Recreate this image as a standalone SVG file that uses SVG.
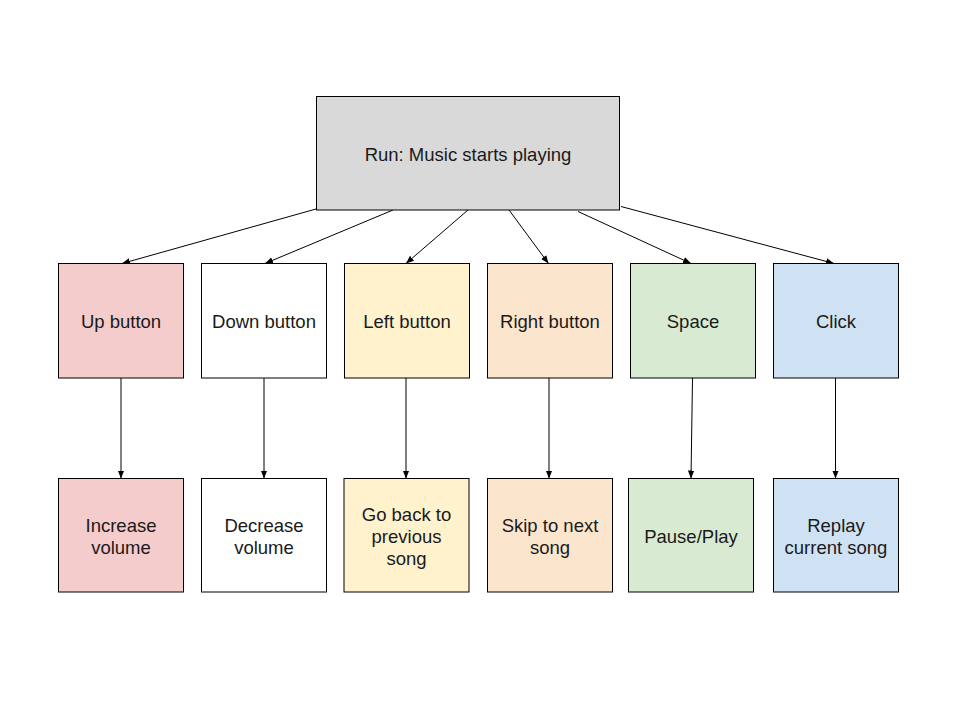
<svg xmlns="http://www.w3.org/2000/svg" width="960" height="720" viewBox="0 0 960 720">
<defs>
<marker id="ah" viewBox="0 0 10 10" refX="10" refY="5" markerWidth="8" markerHeight="8" markerUnits="userSpaceOnUse" orient="auto">
<path d="M0,1 L10,5 L0,9 z" fill="#000"/>
</marker>
<style>
.b{stroke:#000;stroke-width:1}
.t{font-family:"Liberation Sans",Arial,sans-serif;font-size:18.5px;fill:#1a1a1a;text-anchor:middle;dominant-baseline:central}
.c{stroke:#000;stroke-width:1;fill:none;marker-end:url(#ah)}
</style>
</defs>
<rect width="960" height="720" fill="#fff"/>
<g id="connectors">
<line class="c" x1="316" y1="209" x2="122" y2="263.5"/>
<line class="c" x1="393" y1="210" x2="265" y2="263.5"/>
<line class="c" x1="468" y1="210" x2="406" y2="263.5"/>
<line class="c" x1="509" y1="210" x2="548.5" y2="263.5"/>
<line class="c" x1="578" y1="211.5" x2="691" y2="263.5"/>
<line class="c" x1="621" y1="206.5" x2="834" y2="263.5"/>
<line class="c" x1="121" y1="378" x2="121" y2="478.5"/>
<line class="c" x1="264" y1="378" x2="264" y2="478.5"/>
<line class="c" x1="406" y1="378" x2="406" y2="478.5"/>
<line class="c" x1="549" y1="378" x2="549" y2="478.5"/>
<line class="c" x1="692.5" y1="378" x2="691" y2="478.5"/>
<line class="c" x1="835.5" y1="378" x2="835.5" y2="478.5"/>
</g>
<g id="root"><rect class="b" x="316.5" y="96.5" width="303" height="113.5" fill="#d9d9d9"/><text class="t" x="468" y="154">Run: Music starts playing</text></g>
<g id="up"><rect class="b" x="58.5" y="263.5" width="125" height="114.5" fill="#f4cccc"/><text class="t" x="121" y="321">Up button</text></g>
<g id="down"><rect class="b" x="201.5" y="263.5" width="125" height="114.5" fill="#ffffff"/><text class="t" x="264" y="321">Down button</text></g>
<g id="left"><rect class="b" x="344.5" y="263.5" width="125" height="114.5" fill="#fff2cc"/><text class="t" x="407" y="321">Left button</text></g>
<g id="right"><rect class="b" x="487.5" y="263.5" width="125" height="114.5" fill="#fce5cd"/><text class="t" x="550" y="321">Right button</text></g>
<g id="space"><rect class="b" x="630.5" y="263.5" width="125" height="114.5" fill="#d9ead3"/><text class="t" x="693" y="321">Space</text></g>
<g id="click"><rect class="b" x="773.5" y="263.5" width="125" height="114.5" fill="#cfe2f3"/><text class="t" x="836" y="321">Click</text></g>
<g id="inc"><rect class="b" x="58.5" y="478.5" width="125" height="113.5" fill="#f4cccc"/><text class="t" x="121" y="525">Increase</text><text class="t" x="121" y="547">volume</text></g>
<g id="dec"><rect class="b" x="201.5" y="478.5" width="125" height="113.5" fill="#ffffff"/><text class="t" x="264" y="525">Decrease</text><text class="t" x="264" y="547">volume</text></g>
<g id="prev"><rect class="b" x="344" y="478.5" width="125" height="113.5" fill="#fff2cc"/><text class="t" x="406.5" y="514">Go back to</text><text class="t" x="406.5" y="536">previous</text><text class="t" x="406.5" y="558">song</text></g>
<g id="next"><rect class="b" x="487.5" y="478.5" width="125" height="113.5" fill="#fce5cd"/><text class="t" x="550" y="525">Skip to next</text><text class="t" x="550" y="547">song</text></g>
<g id="pause"><rect class="b" x="628.5" y="478.5" width="125" height="113.5" fill="#d9ead3"/><text class="t" x="691" y="536">Pause/Play</text></g>
<g id="replay"><rect class="b" x="773.5" y="478.5" width="125" height="113.5" fill="#cfe2f3"/><text class="t" x="836" y="525">Replay</text><text class="t" x="836" y="547">current song</text></g>
</svg>
